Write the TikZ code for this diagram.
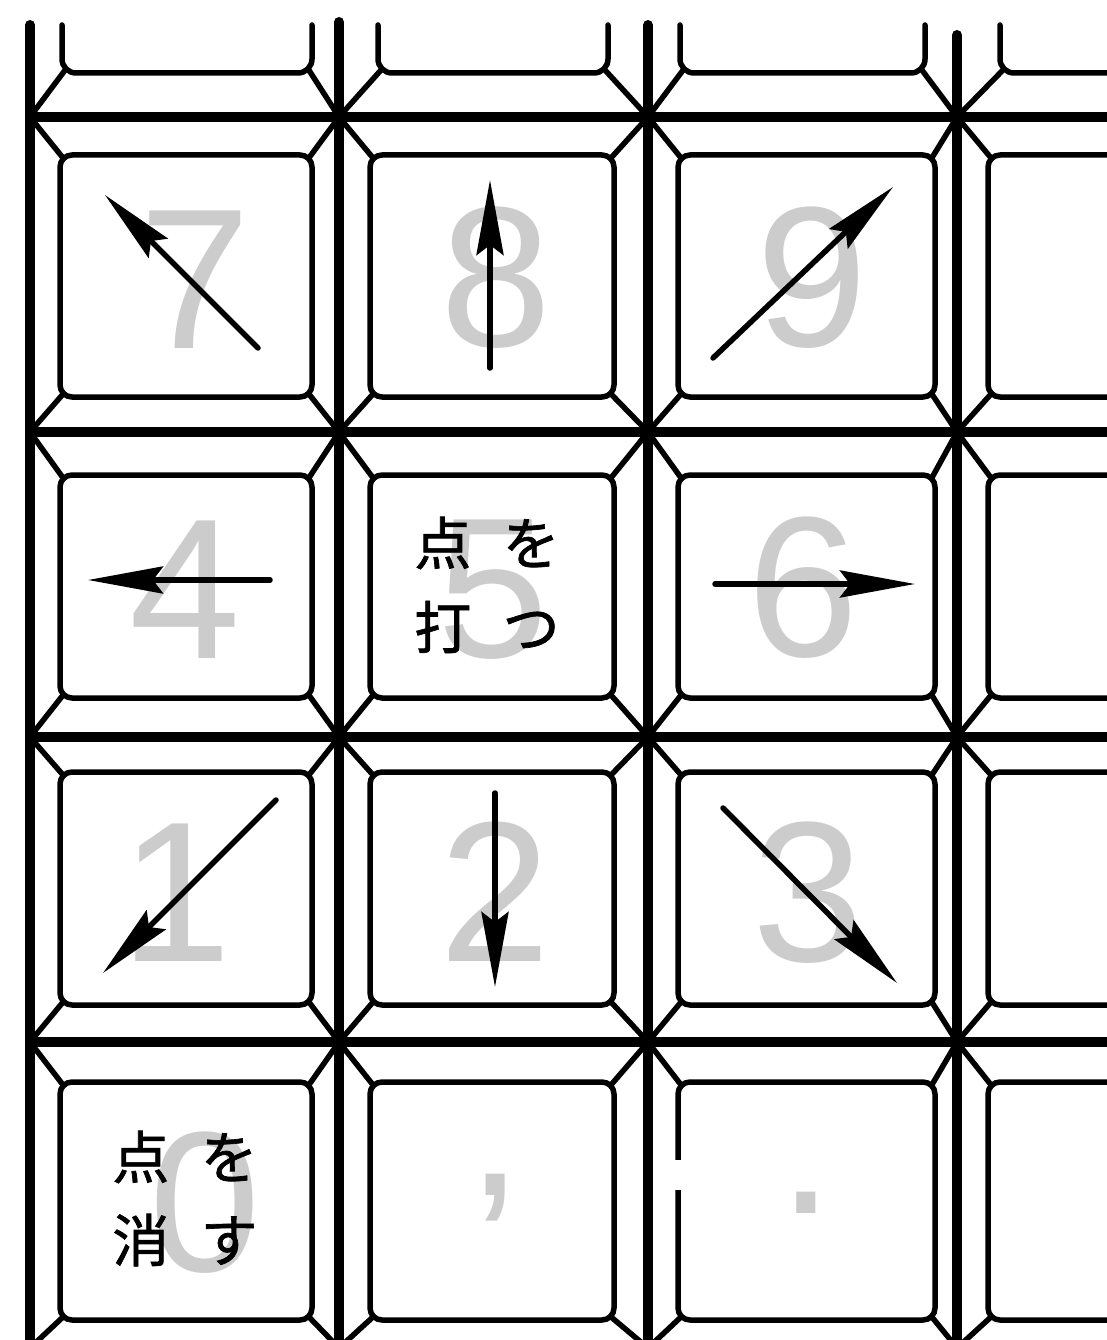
\documentclass[tikz,border=0pt]{standalone}
\usepackage{fontspec}
\setmainfont{Liberation Sans}
\newfontfamily\cjk[FakeBold=1.2]{Noto Sans CJK JP}
\usetikzlibrary{arrows.meta}
\definecolor{digitgray}{gray}{0.8}
\def\Xs{{30,339,648,957}}
\def\Ys{{117,432,737,1042,1348}}
\def\Ls{{60,370,678,988}}
\def\Rs{{312,614,935,1240}}
\def\LzArr{{62,378,680,1000}}
\def\RzArr{{312,608,925,1240}}
\def\Ts{{25,155,475,772,1082}}
\def\Bs{{73,397,698,1005,1320}}
\newcommand\getkey[2]{%
  \ifnum#2=0
    \pgfmathsetmacro\KXl{\LzArr[#1]}\pgfmathsetmacro\KXr{\RzArr[#1]}%
  \else
    \pgfmathsetmacro\KXl{\Ls[#1]}\pgfmathsetmacro\KXr{\Rs[#1]}%
  \fi
  \pgfmathsetmacro\KXt{\Ts[#2]}\pgfmathsetmacro\KXb{\Bs[#2]}}
\begin{document}
\begin{tikzpicture}[x=1pt,y=-1pt,
  gridline/.style={line width=10pt,line cap=round},
  keytop/.style={line width=5.5pt,rounded corners=12pt,line join=round,line cap=round},
  bevel/.style={line width=5.5pt,line cap=round},
  digit/.style={inner sep=0pt,text=digitgray,font=\fontsize{200}{200}\selectfont},
  jp/.style={inner sep=0pt,font=\cjk\fontsize{57}{66}\selectfont},
  arr/.style={line width=5.5pt,line cap=round,-{Stealth[length=75pt,width=27pt,inset=10pt]}}]
\useasboundingbox (0,0) rectangle (1107,1340);
\fill[white] (0,0) rectangle (1107,1340);
\clip (0,0) rectangle (1107,1340);
% gray digits
\node[digit] (d7) at (195,280) {7};
\node[digit] (d8) at (496,278) {8};
\node[digit] (d9) at (812,278) {9};
\node[digit] (d4) at (185,590) {4};
\node[digit] (d5) at (493,590) {5};
\node[digit] (d6) at (803,588) {6};
\node[digit] (d1) at (176,893) {1};
\node[digit] (d2) at (495,892) {2};
\node[digit] (d3) at (808,893) {3};
\node[digit] (d0) at (205,1203) {0};
\node[digit,anchor=base] (dcomma) at (495,1195) {,};
\node[digit,anchor=base] (ddot) at (806,1213) {.};
% grid lines
\foreach \x/\y in {30/25,339/22,648/25,957/35} \draw[gridline] (\x,\y) -- (\x,1360);
\foreach \j in {0,...,4} {\pgfmathsetmacro\yy{\Ys[\j]}\draw[gridline] (30,\yy) -- (1120,\yy);}
% key tops
\foreach \c in {0,...,3} {
  \getkey{\c}{0}
  \draw[keytop,rounded corners=14pt] (\KXl,\KXt) -- (\KXl,\KXb) -- (\KXr,\KXb) -- (\KXr,\KXt);
}
\foreach \r in {1,...,4} \foreach \c in {0,...,3} {
  \getkey{\c}{\r}
  \draw[keytop] (\KXl,\KXt) rectangle (\KXr,\KXb);
}
% bevel lines at each intersection
\foreach \i in {0,...,3} \foreach \j in {0,...,4} {
  \pgfmathsetmacro\X{\Xs[\i]}\pgfmathsetmacro\Y{\Ys[\j]}
  \pgfmathtruncatemacro\im{\i-1}\pgfmathtruncatemacro\jp{\j+1}
  \getkey{\i}{\j}
  \draw[bevel] (\X,\Y) -- (\KXl+3.5,\KXb-3.5);
  \ifnum\i>0
    \getkey{\im}{\j}
    \draw[bevel] (\X,\Y) -- (\KXr-3.5,\KXb-3.5);
  \fi
  \ifnum\j<4
    \getkey{\i}{\jp}
    \draw[bevel] (\X,\Y) -- (\KXl+3.5,\KXt+3.5);
    \ifnum\i>0
      \getkey{\im}{\jp}
      \draw[bevel] (\X,\Y) -- (\KXr-3.5,\KXt+3.5);
    \fi
  \fi
}
% small break in the left edge of the "." key
\fill[white] (670,1160) rectangle (685,1190);
% arrows
\draw[arr] (258,348) -- (105,195);
\draw[arr] (490,368) -- (490,180);
\draw[arr] (713,358) -- (893,187);
\draw[arr] (270,580) -- (88,580);
\draw[arr] (715,584) -- (915,584);
\draw[arr] (276,800) -- (103,973);
\draw[arr] (495,793) -- (495,987);
\draw[arr] (723,808) -- (897,983);
% Japanese labels
\node[jp] (k5a) at (487,543) {点\hspace{0.55em}を};
\node[jp] (k5b) at (487,627) {打\hspace{0.55em}つ};
\node[jp] (k0a) at (185,1157) {点\hspace{0.55em}を};
\node[jp] (k0b) at (185,1240) {消\hspace{0.55em}す};
\end{tikzpicture}
\end{document}
